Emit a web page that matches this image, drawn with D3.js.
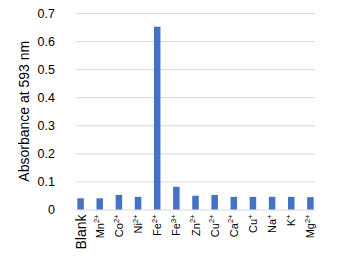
<!DOCTYPE html>
<html>
<head>
<meta charset="utf-8">
<script src="https://cdn.jsdelivr.net/npm/d3@7"></script>
<style>
  body { margin: 0; background: #fff; }
  svg text { font-family: "Liberation Sans", Arial, sans-serif; fill: #000; }
</style>
</head>
<body>
<div id="chart"></div>
<script>
// data
const ions = ["Blank", "Mn", "Co", "Ni", "Fe", "Fe", "Zn", "Cu", "Ca", "Cu", "Na", "K", "Mg"];
const charges = ["", "2+", "2+", "2+", "2+", "3+", "2+", "2+", "2+", "+", "+", "+", "2+"];
const absorbance = [0.040, 0.040, 0.052, 0.045, 0.651, 0.081, 0.049, 0.052, 0.045, 0.045, 0.045, 0.045, 0.044];
const yTicks = [0, 0.1, 0.2, 0.3, 0.4, 0.5, 0.6, 0.7];

const width = 350;
const height = 268;
const margin = { top: 13, right: 35, bottom: 58.5, left: 76 };

const svg = d3.select('#chart')
    .append('svg')
    .attr('width', width)
    .attr('height', height);

const keys = ions.map((d, i) => i);

const x = d3.scaleBand()
    .domain(keys)
    .range([margin.left, width - margin.right])
    .paddingInner(0.66)
    .paddingOuter(0.07);

const y = d3.scaleLinear()
    .domain([0, 0.7])
    .range([height - margin.bottom, margin.top]);

// gridlines + tick labels
const yAxis = svg.append('g')
    .attr('transform', `translate(${margin.left}, 0)`)
    .call(d3.axisLeft(y)
        .tickValues(yTicks)
        .tickSize(-(width - margin.left - margin.right))
        .tickPadding(21)
        .tickFormat(d => d === 0 ? '0' : d3.format('.1f')(d)));
yAxis.select('.domain').remove();
yAxis.selectAll('line').attr('stroke', '#d9d9d9').attr('stroke-width', 1);
yAxis.selectAll('text')
    .style('font-size', '12.5px')
    .attr('fill', '#000');

// bars
svg.selectAll('.bar')
    .data(absorbance)
    .enter()
    .append('rect')
    .attr('class', 'bar')
    .attr('x', (d, i) => x(i))
    .attr('y', d => y(d))
    .attr('width', x.bandwidth())
    .attr('height', d => y(0) - y(d))
    .attr('fill', '#4472c4');

// category labels, rotated
const labels = svg.selectAll('.xlabel')
    .data(keys)
    .enter()
    .append('text')
    .attr('class', 'xlabel')
    .attr('text-anchor', 'end')
    .attr('dominant-baseline', 'central')
    .attr('transform', i => `translate(${x(i) + x.bandwidth() / 2}, ${y(0) + 5}) rotate(-90)`)
    .style('font-size', i => i === 0 ? '14px' : '11px');

labels.append('tspan').text(i => ions[i]);
labels.append('tspan')
    .attr('dy', '-0.45em')
    .style('font-size', '7.5px')
    .text(i => charges[i]);

// y axis title
svg.append('text')
    .attr('transform', `translate(24, ${margin.top + (height - margin.bottom - margin.top) / 2}) rotate(-90)`)
    .attr('text-anchor', 'middle')
    .attr('dominant-baseline', 'central')
    .style('font-size', '14px')
    .text('Absorbance at 593 nm');
</script>
</body>
</html>
